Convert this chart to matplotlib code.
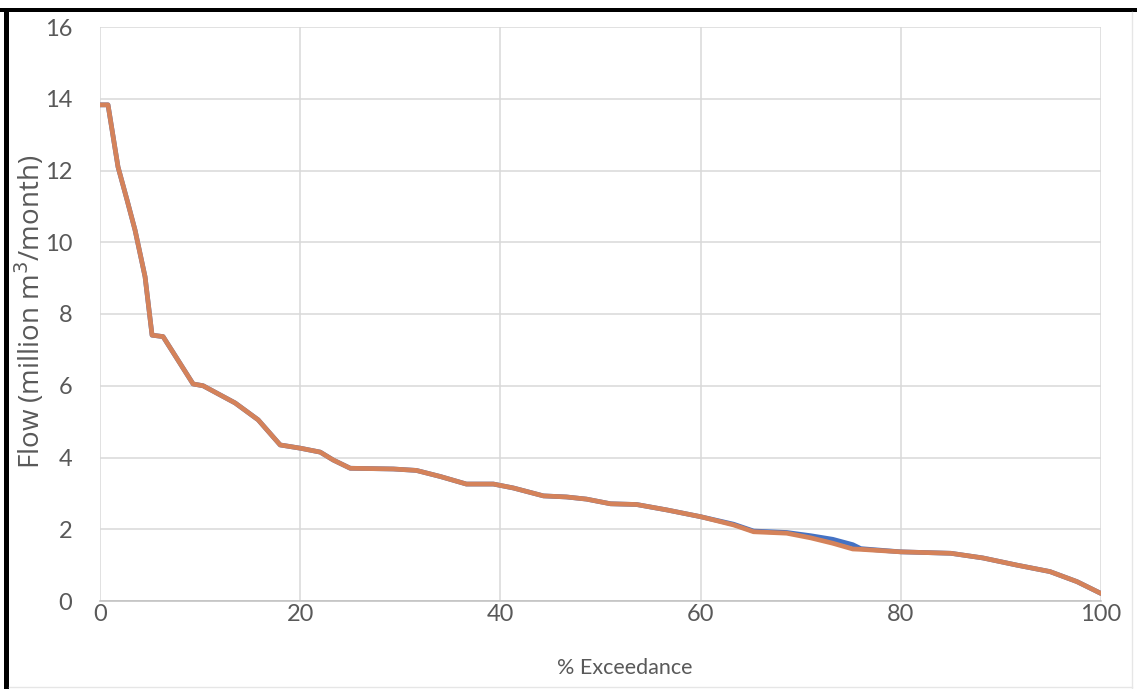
import matplotlib
matplotlib.use("Agg")
import matplotlib.pyplot as plt
from matplotlib.patches import Rectangle
from matplotlib.lines import Line2D

# Flow duration curve data
exceedance_pct = [0, 0.8, 1.8, 2.7, 3.5, 4.5, 5.2, 6.3, 9.3, 10.3, 13.5, 15.8,
                  18.0, 20.0, 22.0, 23.3, 25.0, 29.3, 31.6, 34.0, 36.6, 39.3,
                  41.3, 44.3, 46.6, 48.6, 51.0, 53.6, 56.6, 60.0, 63.3, 65.3,
                  68.6, 71.0, 73.2, 75.2, 76.0, 80.0, 85.0, 88.2, 91.6, 94.9,
                  97.6, 100.0]

flow_observed = [13.83, 13.83, 12.1, 11.18, 10.34, 9.04, 7.41, 7.37, 6.05, 6.0,
                 5.52, 5.05, 4.35, 4.26, 4.15, 3.93, 3.7, 3.68, 3.64, 3.47,
                 3.26, 3.26, 3.15, 2.93, 2.9, 2.84, 2.71, 2.69, 2.54, 2.35,
                 2.14, 1.95, 1.91, 1.82, 1.72, 1.57, 1.46, 1.37, 1.33, 1.2,
                 1.0, 0.82, 0.54, 0.21]

flow_simulated = [13.83, 13.83, 12.1, 11.18, 10.34, 9.04, 7.41, 7.37, 6.05, 6.0,
                  5.52, 5.05, 4.35, 4.26, 4.15, 3.93, 3.7, 3.68, 3.64, 3.47,
                  3.26, 3.26, 3.15, 2.93, 2.9, 2.84, 2.71, 2.69, 2.54, 2.35,
                  2.12, 1.93, 1.89, 1.76, 1.61, 1.45, 1.44, 1.37, 1.33, 1.2,
                  1.0, 0.82, 0.54, 0.21]

x_ticks = [0, 20, 40, 60, 80, 100]
y_ticks = [0, 2, 4, 6, 8, 10, 12, 14, 16]

TEXT = "#595959"
GRID = "#D9D9D9"
FONT = "Lato"

W, H = 1137, 689
fig = plt.figure(figsize=(W / 100, H / 100), dpi=100)
fig.patch.set_facecolor("white")

ax = fig.add_axes([100 / W, 1 - 601 / H, (1101 - 100) / W, (601 - 27) / H])
ax.plot(exceedance_pct, flow_observed, color="#4472C4", lw=3.4,
        solid_joinstyle="round", solid_capstyle="round", zorder=3)
ax.plot(exceedance_pct, flow_simulated, color="#D4825A", lw=3.4,
        solid_joinstyle="round", solid_capstyle="round", zorder=4)

ax.set_xlim(0, 100)
ax.set_ylim(0, 16)
ax.set_xticks(x_ticks)
ax.set_yticks(y_ticks)
ax.grid(True, color=GRID, lw=1.1, zorder=0)
for side in ("top", "right", "left"):
    ax.spines[side].set_visible(False)
ax.spines["bottom"].set_color("#BFBFBF")
ax.spines["bottom"].set_linewidth(1.1)
ax.tick_params(length=0, labelcolor=TEXT, labelsize=17)
ax.tick_params(axis="y", pad=20)
ax.tick_params(axis="x", pad=2)
for lab in ax.get_xticklabels() + ax.get_yticklabels():
    lab.set_fontfamily(FONT)

fig.text(625 / W, 1 - 668 / H, "% Exceedance", ha="center", va="center",
         color=TEXT, fontsize=15.5, family=FONT)
fig.text(30 / W, 1 - 312 / H, "Flow (million m$^3$/month)", ha="center",
         va="center", rotation=90, color=TEXT, fontsize=20, family="Open Sans")

# frame around the chart area
fig.add_artist(Rectangle((0, 1 - 12 / H), 1, 4 / H, transform=fig.transFigure,
                         color="black", lw=0))
fig.add_artist(Rectangle((4 / W, 0), 5 / W, 1 - 8 / H, transform=fig.transFigure,
                         color="black", lw=0))
fig.add_artist(Line2D([1132 / W, 1132 / W], [0, 1 - 12 / H],
                      transform=fig.transFigure, color="#E6E6E6", lw=1))
fig.add_artist(Line2D([9 / W, 1132 / W], [2 / H, 2 / H],
                      transform=fig.transFigure, color="#E6E6E6", lw=1))

fig.savefig("out.png", dpi=100)
